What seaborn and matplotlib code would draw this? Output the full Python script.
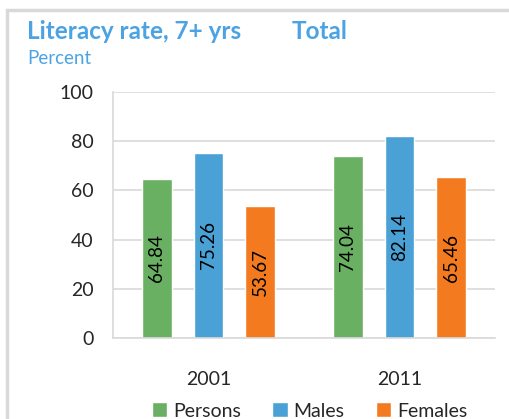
import matplotlib

matplotlib.use("Agg")
import matplotlib.pyplot as plt
import pandas as pd
import seaborn as sns
from matplotlib.patches import Patch, Rectangle

years = ["2001", "2011"]
groups = ["Persons", "Males", "Females"]
persons = [64.84, 74.04]
males = [75.26, 82.14]
females = [53.67, 65.46]

colors = {"Persons": "#6AB063", "Males": "#4AA1D6", "Females": "#F47A20"}
title_blue = "#4BA3E3"

rows = []
for i, yr in enumerate(years):
    rows.append({"year": yr, "group": "Persons", "rate": persons[i]})
    rows.append({"year": yr, "group": "Males", "rate": males[i]})
    rows.append({"year": yr, "group": "Females", "rate": females[i]})
df = pd.DataFrame(rows)

sns.set_theme(style="white")
plt.rcParams["font.family"] = ["Lato", "DejaVu Sans"]

fig = plt.figure(figsize=(5.10, 4.19), dpi=100)
ax = fig.add_axes([0.2216, 0.1933, 0.749, 0.587])

sns.barplot(
    data=df, x="year", y="rate", hue="group", hue_order=groups,
    palette=colors, width=0.81, gap=0.42, ax=ax, legend=False,
    saturation=1, errorbar=None,
)

for cont in ax.containers:
    ax.bar_label(cont, labels=[f"{v:.2f}" for v in cont.datavalues],
                 label_type="center", rotation=90, fontsize=13.5, color="black")

ax.set_xlim(-0.5, 1.5)
ax.set_ylim(0, 100)
ax.set_yticks([0, 20, 40, 60, 80, 100])
ax.yaxis.grid(True, color="#D9D9D9", linewidth=1.2)
ax.set_axisbelow(True)
ax.set_xlabel("")
ax.set_ylabel("")
for side in ["top", "right"]:
    ax.spines[side].set_visible(False)
for side in ["left", "bottom"]:
    ax.spines[side].set_color("#D9D9D9")
    ax.spines[side].set_linewidth(1.2)

ax.tick_params(axis="y", labelsize=14, length=6, color="#D9D9D9", width=1.2, pad=8)
ax.tick_params(axis="x", which="major", labelsize=14, length=0, pad=24)
ax.set_xticks([-0.5, 0.5, 1.5], minor=True)
ax.tick_params(axis="x", which="minor", length=6, color="#D9D9D9", width=1.2)

fig.text(0.053, 0.926, "Literacy rate, 7+ yrs", fontsize=17.5, fontweight="bold",
         color=title_blue, va="center")
fig.text(0.572, 0.926, "Total", fontsize=17.5, fontweight="bold",
         color=title_blue, va="center")
fig.text(0.053, 0.861, "Percent", fontsize=13.5, color=title_blue, va="center")

frame = Rectangle((0.014, -0.1), 1.2, 1.076, transform=fig.transFigure,
                  fill=False, edgecolor="#D9D9D9", linewidth=2.5)
fig.patches.append(frame)

handles = [Patch(facecolor=colors[g], label=g) for g in groups]
fig.legend(handles=handles, loc="center", bbox_to_anchor=(0.607, 0.019), ncol=3,
           frameon=False, fontsize=14, handlelength=0.8, handleheight=0.8,
           handletextpad=0.3, columnspacing=1.6)

fig.savefig("out.png", dpi=100)
